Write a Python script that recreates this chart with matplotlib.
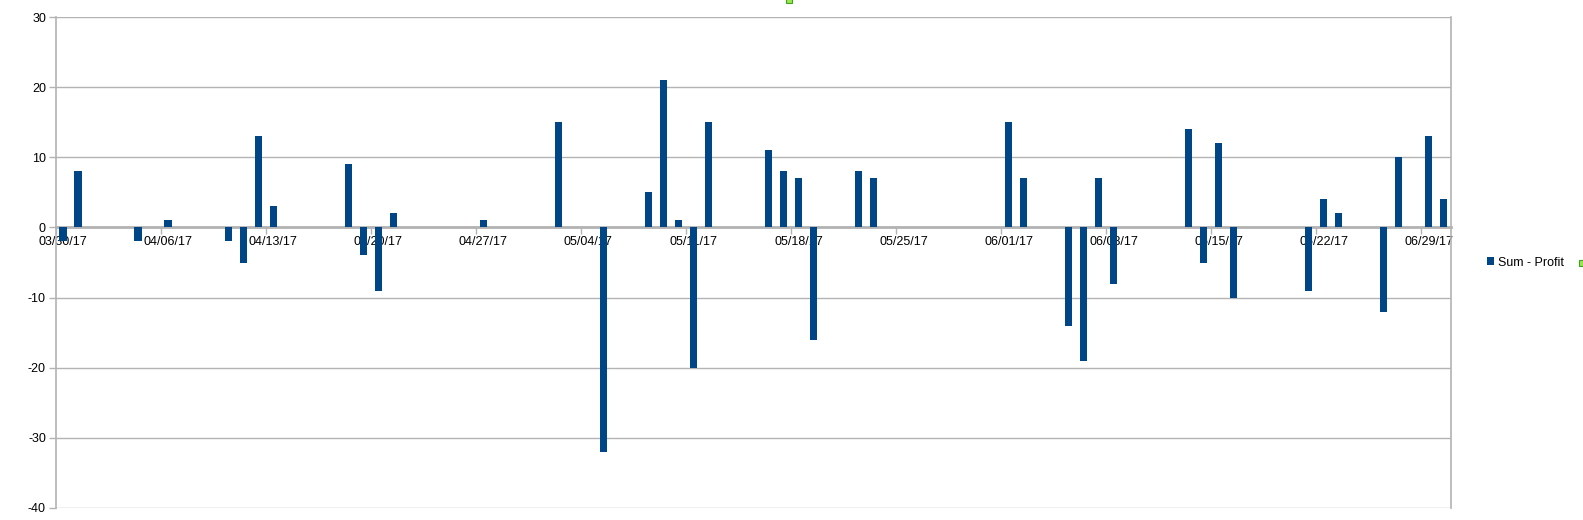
import matplotlib
matplotlib.use("Agg")
import matplotlib.pyplot as plt
import matplotlib.dates as mdates
from matplotlib.patches import Rectangle
import numpy as np
import pandas as pd

plt.rcParams['font.family'] = ['Liberation Sans', 'DejaVu Sans']
plt.rcParams['axes.unicode_minus'] = False

# daily profit sums (days without a value are simply empty)
dates = ['2017-03-30', '2017-03-31', '2017-04-04', '2017-04-06', '2017-04-10',
         '2017-04-11', '2017-04-12', '2017-04-13', '2017-04-18', '2017-04-19',
         '2017-04-20', '2017-04-21', '2017-04-27', '2017-05-02', '2017-05-05',
         '2017-05-08', '2017-05-09', '2017-05-10', '2017-05-11', '2017-05-12',
         '2017-05-16', '2017-05-17', '2017-05-18', '2017-05-19', '2017-05-22',
         '2017-05-23', '2017-06-01', '2017-06-02', '2017-06-05', '2017-06-06',
         '2017-06-07', '2017-06-08', '2017-06-13', '2017-06-14', '2017-06-15',
         '2017-06-16', '2017-06-21', '2017-06-22', '2017-06-23', '2017-06-26',
         '2017-06-27', '2017-06-29', '2017-06-30']
profit = [-2, 8, -2, 1, -2,
          -5, 13, 3, 9, -4,
          -9, 2, 1, 15, -32,
          5, 21, 1, -20, 15,
          11, 8, 7, -16, 8,
          7, 15, 7, -14, -19,
          7, -8, 14, -5, 12,
          -10, -9, 4, 2, -12,
          10, 13, 4]
series_name = 'Sum - Profit'
axis_start = '2017-03-30'
axis_end = '2017-07-01'
y_ticks = [-40, -30, -20, -10, 0, 10, 20, 30]

grey = '#b3b3b3'
blue = '#004586'

fig = plt.figure(figsize=(15.83, 5.20), dpi=100)
ax = fig.add_axes([55.7 / 1583, 12.3 / 520, 1395.5 / 1583, 490.4 / 520])

x = mdates.date2num(pd.to_datetime(dates))
bars = ax.bar(x + 0.5, profit, width=0.5, color=blue, zorder=3)

x0 = mdates.date2num(pd.Timestamp(axis_start))
x1 = mdates.date2num(pd.Timestamp(axis_end))
ax.set_xlim(x0, x1)
ax.set_ylim(-40, 30)

# weekly tick marks at the day boundary, labels centred on the day
weeks = pd.date_range(axis_start, axis_end, freq='7D')
wk = mdates.date2num(weeks)
ax.set_xticks(wk)
ax.set_xticklabels([])
ax.set_xticks(wk + 0.5, minor=True)
ax.set_xticklabels([d.strftime('%m/%d/%y') for d in weeks], minor=True)
ax.tick_params(axis='x', which='major', length=5, width=1, color=grey, direction='out')
ax.tick_params(axis='x', which='minor', length=0, pad=6, labelsize=9, labelcolor='black')

ax.set_yticks(y_ticks)
ax.tick_params(axis='y', length=5, width=1, color=grey, pad=2, labelsize=9, labelcolor='black')

ax.grid(axis='y', color=grey, linewidth=1, zorder=0)
ax.set_axisbelow(True)

ax.spines['top'].set_visible(False)
ax.spines['bottom'].set_position(('data', 0))
ax.spines['bottom'].set_color(grey)
ax.spines['bottom'].set_linewidth(2)
ax.spines['bottom'].set_zorder(2)
for s in ['left', 'right']:
    ax.spines[s].set_color(grey)
    ax.spines[s].set_linewidth(1.2)

ax.legend([bars], [series_name], loc='center left',
          bbox_to_anchor=(1487 / 1583, 1 - 262.5 / 520), bbox_transform=fig.transFigure,
          frameon=False, fontsize=9, handlelength=0.55, handleheight=0.55,
          handletextpad=0.35, borderpad=0, borderaxespad=0)

# little green selection handles
for hx, hy in [(786, -3), (1579, 259.5)]:
    fig.add_artist(Rectangle((hx / 1583, 1 - (hy + 6) / 520), 6 / 1583, 6 / 520,
                             transform=fig.transFigure, facecolor='#99e64d',
                             edgecolor='#40a020', linewidth=0.8, clip_on=False))

fig.savefig('out.png', dpi=100)
